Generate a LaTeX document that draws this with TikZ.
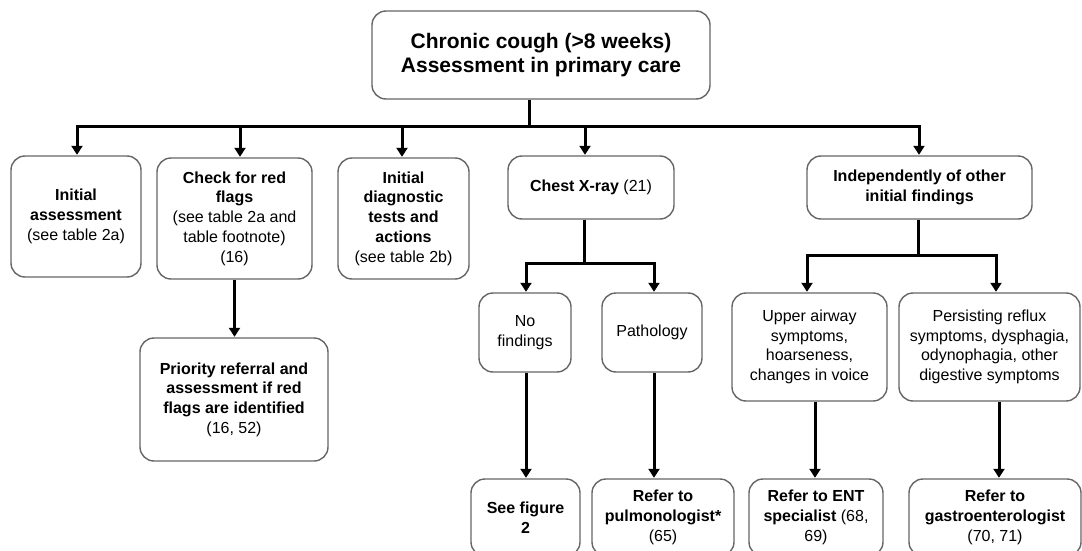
\documentclass[tikz,border=0pt]{standalone}
\usepackage{fontspec}
\setmainfont{Liberation Sans}
\usetikzlibrary{arrows.meta}
\begin{document}
\begin{tikzpicture}[x=1pt,y=-1pt,
  box/.style={draw=black!60, line width=1.4pt, rounded corners=14pt, align=center,
    inner sep=0pt, font=\fontsize{16}{19.7}\selectfont, text=black},
  topbox/.style={box, font=\fontsize{21}{23.5}\selectfont\bfseries},
  conn/.style={line width=3pt, black},
  arr/.style={conn, -{Triangle[width=11pt,length=9pt]}, shorten >=0.5pt}]
\clip (0,0) rectangle (1082,551);
\fill[white] (0,0) rectangle (1082,551);

% nodes
\node[topbox, minimum width=338, minimum height=88] (T) at (541,55) {Chronic cough (>8 weeks)\\Assessment in primary care};

\node[box, minimum width=130, minimum height=121] (A) at (76,216.5) {\textbf{Initial}\\\textbf{assessment}\\(see table 2a)};
\node[box, minimum width=155, minimum height=121] (B) at (234.5,218.5) {\textbf{Check for red}\\\textbf{flags}\\(see table 2a and\\table footnote)\\(16)};
\node[box, minimum width=131, minimum height=121] (C) at (403.5,218.5) {\textbf{Initial}\\\textbf{diagnostic}\\\textbf{tests and}\\\textbf{actions}\\(see table 2b)};
\node[box, minimum width=166, minimum height=63] (D) at (591,187.5) {\textbf{Chest X-ray} (21)};
\node[box, minimum width=225, minimum height=63] (E) at (919.5,187.5) {\textbf{Independently of other}\\\textbf{initial findings}};

\node[box, minimum width=188, minimum height=123] (F) at (234,399.5) {\textbf{Priority referral and}\\\textbf{assessment if red}\\\textbf{flags are identified}\\(16, 52)};

\node[box, minimum width=92, minimum height=79] (G) at (525,332.5) {No\\findings};
\node[box, minimum width=100, minimum height=79] (H) at (652,332.5) {Pathology};
\node[box, minimum width=155, minimum height=108] (I) at (809.5,347) {Upper airway\\symptoms,\\hoarseness,\\changes in voice};
\node[box, minimum width=181, minimum height=108] (J) at (989.5,347) {Persisting reflux\\symptoms, dysphagia,\\odynophagia, other\\digestive symptoms};

\node[box, minimum width=109, minimum height=77] (K) at (525.5,517.5) {\textbf{See figure}\\\textbf{2}};
\node[box, minimum width=142, minimum height=77] (L) at (663,517.5) {\textbf{Refer to}\\\textbf{pulmonologist*}\\(65)};
\node[box, minimum width=134, minimum height=77] (M) at (816,517.5) {\textbf{Refer to ENT}\\\textbf{specialist} (68,\\69)};
\node[box, minimum width=172, minimum height=77] (N) at (995,517.5) {\textbf{Refer to}\\\textbf{gastroenterologist}\\(70, 71)};

% bus from top box
\coordinate (busT) at (529,126);
\coordinate (busL) at (77,126);
\coordinate (busR) at (919,126);
\coordinate (bus2) at (240,126);
\coordinate (bus3) at (402,126);
\coordinate (bus4) at (585,126);
\draw[conn] (T.south -| busT) -- (busT);
\draw[conn, line cap=rect] (busL) -- (busR);
\draw[arr] (busL) -- (busL |- A.north);
\draw[arr] (bus2) -- (bus2 |- B.north);
\draw[arr] (bus3) -- (bus3 |- C.north);
\draw[arr] (bus4) -- (bus4 |- D.north);
\draw[arr] (busR) -- (busR |- E.north);

% red flags -> priority
\draw[arr] (B.south) -- (B.south |- F.north);

% chest x-ray branch
\coordinate (dj) at (584,263);
\coordinate (dl) at (526,263);
\coordinate (dr) at (654,263);
\draw[conn] (D.south -| dj) -- (dj);
\draw[conn, line cap=rect] (dl) -- (dr);
\draw[arr] (dl) -- (dl |- G.north);
\draw[arr] (dr) -- (dr |- H.north);

% independently branch
\coordinate (ej) at (918,255);
\coordinate (el) at (807,255);
\coordinate (er) at (996,255);
\draw[conn] (E.south -| ej) -- (ej);
\draw[conn, line cap=rect] (el) -- (er);
\draw[arr] (el) -- (el |- I.north);
\draw[arr] (er) -- (er |- J.north);

% to bottom row
\coordinate (gk) at (526,400);
\coordinate (hl) at (654,400);
\coordinate (im) at (815,400);
\coordinate (jn) at (999,400);
\draw[arr] (G.south -| gk) -- (gk |- K.north);
\draw[arr] (H.south -| hl) -- (hl |- L.north);
\draw[arr] (I.south -| im) -- (im |- M.north);
\draw[arr] (J.south -| jn) -- (jn |- N.north);
\end{tikzpicture}
\end{document}
